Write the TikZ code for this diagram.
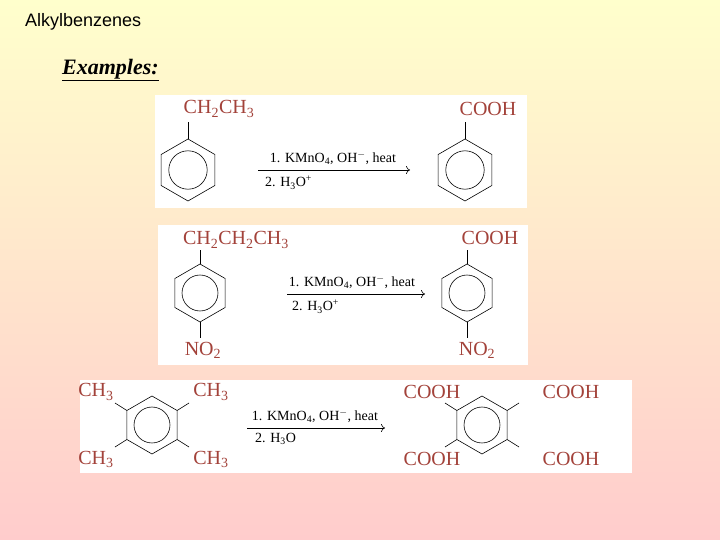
\documentclass[tikz,border=0pt]{standalone}
\usepackage{fontspec}
\setmainfont{Liberation Serif}
\newfontfamily\arialf{Liberation Sans}
\usetikzlibrary{arrows.meta,calc}
\definecolor{chem}{HTML}{A3423A}
\tikzset{
  grp/.style={text=chem,font=\fontsize{20}{20}\selectfont,inner sep=0pt},
  cond/.style={font=\fontsize{14}{14}\selectfont,inner sep=0pt},
  rx/.style={-{To[length=4pt,width=8pt]},line width=0.6pt},
  bond/.style={line width=0.6pt},
  panel/.style={fill=white,draw=none}
}
\newcommand{\ring}[4]{% name, x, y, r
  \coordinate (#1) at (#2,#3);
  \foreach \i in {1,...,6}{\coordinate (#1-\i) at ($(#1)+({270-60*(\i-1)}:#4)$);}
  \draw[bond] (#1-1)--(#1-2)--(#1-3)--(#1-4)--(#1-5)--(#1-6)--cycle;
  \draw[bond] (#1) circle ({0.62*#4});
}
\begin{document}
\begin{tikzpicture}[x=1pt,y=-1pt]
\useasboundingbox (0,0) rectangle (720,540);
\shade[top color={rgb,255:red,255;green,255;blue,204},bottom color={rgb,255:red,255;green,204;blue,204}] (0,0) rectangle (720,540);
\node[anchor=west,font=\arialf\fontsize{18}{18}\selectfont,inner sep=0pt] (title) at (25,22) {Alkylbenzenes};
\node[anchor=west,font=\fontsize{22}{22}\selectfont\bfseries\itshape,inner sep=0pt] (ex) at (62,70) {\underline{Examples:}};
% panel 1
\fill[panel] (155,95) rectangle (527,208);
\ring{a}{188}{170}{31}
\node[grp] (a1) at (219,109) {CH\textsubscript{2}CH\textsubscript{3}};
\coordinate (a1b) at (188,122);
\draw[bond] (a-1)--(a1b);
\node[cond,anchor=south] (c1) at (333,165) {1. KMnO\textsubscript{4}, OH\textsuperscript{$-$}, heat};
\node[cond,anchor=north west] (c2) at (265,176) {2. H\textsubscript{3}O\textsuperscript{+}};
\coordinate (ar1s) at (258,170); \coordinate (ar1e) at (410,170);
\draw[rx] (ar1s)--(ar1e);
\ring{b}{465}{170}{31}
\node[grp] (b1) at (488,109) {COOH};
\coordinate (b1b) at (465,122);
\draw[bond] (b-1)--(b1b);
% panel 2
\fill[panel] (158,225) rectangle (528,365);
\ring{d}{200}{293}{29}
\node[grp] (d1) at (236,240) {CH\textsubscript{2}CH\textsubscript{2}CH\textsubscript{3}};
\coordinate (d1b) at (200,250); \draw[bond] (d-1)--(d1b);
\node[grp] (d2) at (203,350) {NO\textsubscript{2}};
\coordinate (d2b) at (200,338); \draw[bond] (d-4)--(d2b);
\node[cond,anchor=south] (c3) at (352,289) {1. KMnO\textsubscript{4}, OH\textsuperscript{$-$}, heat};
\node[cond,anchor=north west] (c4) at (292,300) {2. H\textsubscript{3}O\textsuperscript{+}};
\coordinate (ar2s) at (287,294); \coordinate (ar2e) at (425,294);
\draw[rx] (ar2s)--(ar2e);
\ring{e}{467}{293}{29}
\node[grp] (e1) at (490,238) {COOH};
\coordinate (e1b) at (467,250); \draw[bond] (e-1)--(e1b);
\node[grp] (e2) at (477,350) {NO\textsubscript{2}};
\coordinate (e2b) at (467,338); \draw[bond] (e-4)--(e2b);
% panel 3
\fill[panel] (80,380) rectangle (632,473);
\ring{f}{152}{425}{29}
\node[grp] (f1) at (96,392) {CH\textsubscript{3}};
\node[grp] (f2) at (211,392) {CH\textsubscript{3}};
\node[grp] (f3) at (96,459) {CH\textsubscript{3}};
\node[grp] (f4) at (211,459) {CH\textsubscript{3}};
\coordinate (f1b) at (115,403); \draw[bond] (f-2)--(f1b);
\coordinate (f2b) at (189,403); \draw[bond] (f-6)--(f2b);
\coordinate (f3b) at (115,447); \draw[bond] (f-3)--(f3b);
\coordinate (f4b) at (189,447); \draw[bond] (f-5)--(f4b);
\node[cond,anchor=south] (c5) at (315,423) {1. KMnO\textsubscript{4}, OH\textsuperscript{$-$}, heat};
\node[cond,anchor=north west] (c6) at (255,433) {2. H\textsubscript{3}O};
\coordinate (ar3s) at (247,428); \coordinate (ar3e) at (385,428);
\draw[rx] (ar3s)--(ar3e);
\ring{g}{482}{425}{29}
\node[grp] (g1) at (432,392) {COOH};
\node[grp] (g2) at (571,392) {COOH};
\node[grp] (g3) at (432,459) {COOH};
\node[grp] (g4) at (571,459) {COOH};
\coordinate (g1b) at (445,403); \draw[bond] (g-2)--(g1b);
\coordinate (g2b) at (519,403); \draw[bond] (g-6)--(g2b);
\coordinate (g3b) at (445,447); \draw[bond] (g-3)--(g3b);
\coordinate (g4b) at (519,447); \draw[bond] (g-5)--(g4b);
\end{tikzpicture}
\end{document}
